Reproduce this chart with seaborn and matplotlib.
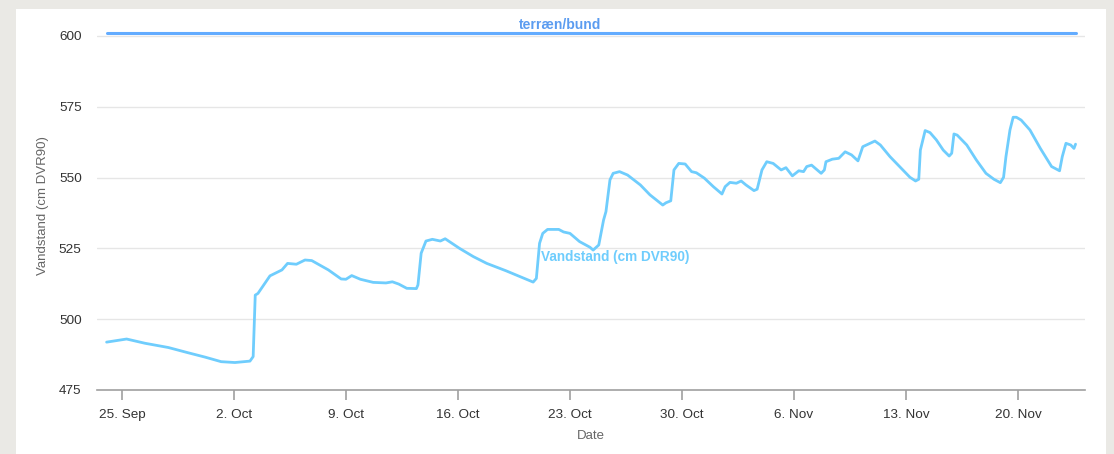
import numpy as np
import pandas as pd
import seaborn as sns
import matplotlib.pyplot as plt
import matplotlib.dates as mdates
from matplotlib.patches import Rectangle

# days after 25 Sep 2023 and water level (cm DVR90)
start_date = "2023-09-25"
day_offset = [
    -0.96, 0.29, 1.44, 2.9, 4.1, 5.2, 6.2, 7.06, 8.0, 8.2, 8.33, 8.5, 9.25, 10.0,
    10.35, 10.9, 11.44, 11.86, 12.9, 13.7, 14.0, 14.36, 14.9, 15.7, 16.5, 16.9,
    17.3, 17.8, 18.4, 18.5, 18.7, 19.0, 19.4, 19.9, 20.2, 21.1, 21.96, 22.8, 24.0,
    24.9, 25.7, 25.9, 26.1, 26.3, 26.6, 27.3, 27.6, 28.0, 28.6, 29.25, 29.45,
    29.8, 30.1, 30.25, 30.5, 30.7, 31.1, 31.6, 32.4, 33.0, 33.8, 34.0, 34.3,
    34.5, 34.8, 35.2, 35.6, 35.9, 36.4, 36.96, 37.5, 37.7, 38.0, 38.4, 38.7,
    39.0, 39.5, 39.7, 40.0, 40.3, 40.7, 41.2, 41.5, 41.9, 42.3, 42.6, 42.8,
    43.1, 43.7, 43.9, 44.0, 44.4, 44.8, 45.2, 45.6, 46.0, 46.3, 46.75, 47.06,
    47.4, 48.0, 48.6, 49.25, 49.6, 49.8, 49.9, 50.2, 50.5, 50.9, 51.33, 51.7,
    51.86, 52.0, 52.2, 52.8, 53.4, 54.0, 54.5, 54.9, 55.1, 55.25, 55.5, 55.7,
    55.9, 56.2, 56.75, 57.4, 58.1, 58.6, 58.77, 59.0, 59.3, 59.5, 59.6,
]
level = [
    491.9, 493.0, 491.5, 490.0, 488.2, 486.6, 485.0, 484.7, 485.2, 486.8, 508.5,
    509.1, 515.3, 517.4, 519.7, 519.4, 520.9, 520.7, 517.4, 514.2, 514.1, 515.4,
    514.1, 513.0, 512.8, 513.2, 512.4, 510.9, 510.8, 512.1, 523.3, 527.6, 528.2,
    527.6, 528.4, 525.0, 522.1, 519.7, 517.1, 515.0, 513.1, 514.4, 526.8, 530.3,
    531.7, 531.7, 530.8, 530.3, 527.4, 525.4, 524.4, 526.2, 535.0, 538.0, 549.2,
    551.5, 552.1, 550.9, 547.4, 543.9, 540.3, 541.1, 541.8, 552.7, 555.0, 554.8,
    552.1, 551.7, 549.8, 546.8, 544.2, 546.8, 548.3, 548.0, 548.8, 547.4, 545.4,
    545.9, 552.7, 555.6, 555.0, 552.7, 553.5, 550.6, 552.4, 552.1, 553.9, 554.4,
    551.5, 552.7, 555.6, 556.5, 556.8, 559.1, 558.0, 555.9, 560.9, 562.1, 562.9,
    561.5, 557.4, 553.9, 550.1, 548.8, 549.4, 559.7, 566.6, 565.9, 563.3, 559.7,
    557.6, 558.6, 565.4, 565.0, 561.5, 556.2, 551.5, 549.4, 548.2, 550.1, 557.4,
    566.8, 571.3, 571.3, 570.3, 566.8, 560.3, 553.9, 552.4, 557.4, 562.1, 561.5,
    560.3, 561.8,
]
terrain_level = 601
yticks = [475, 500, 525, 550, 575, 600]

base = pd.Timestamp(start_date)
df = pd.DataFrame({
    "Date": base + pd.to_timedelta(day_offset, unit="D"),
    "Vandstand": level,
})
terrain = pd.DataFrame({
    "Date": [df["Date"].iloc[0], df["Date"].iloc[-1]],
    "Vandstand": [terrain_level, terrain_level],
})

sns.set_theme(style="white")
plt.rcParams["font.family"] = ["Liberation Sans", "DejaVu Sans"]

water_col = "#6fcdfd"
terrain_col = "#63acff"
label_col = "#5b9cf0"

fig = plt.figure(figsize=(11.14, 4.54), dpi=100)
fig.patch.set_facecolor("#eae9e5")
fig.patches.append(Rectangle((16 / 1114, 0), 1090 / 1114, 445 / 454,
                             transform=fig.transFigure, facecolor="white",
                             edgecolor="none", zorder=-10))

ax = fig.add_axes([97 / 1114, 1 - 390 / 454, 988 / 1114, 0.811])
ax.set_facecolor("none")

sns.lineplot(data=terrain, x="Date", y="Vandstand", ax=ax, color=terrain_col,
             linewidth=2.2, zorder=3)
sns.lineplot(data=df, x="Date", y="Vandstand", ax=ax, color=water_col,
             linewidth=2.0, zorder=3)

ax.set_ylim(475, 605)
ax.set_yticks(yticks)
ax.set_xlim(base + pd.Timedelta(days=-1.56), base + pd.Timedelta(days=60.19))
ax.xaxis.set_major_locator(mdates.WeekdayLocator(byweekday=mdates.MO))
ax.xaxis.set_major_formatter(mdates.DateFormatter("%-d. %b"))

ax.grid(axis="y", color="#e6e6e6", linewidth=1)
ax.set_axisbelow(True)
for side in ["top", "right", "left"]:
    ax.spines[side].set_visible(False)
ax.spines["bottom"].set_color("#a0a0a0")
ax.spines["bottom"].set_linewidth(1.2)

ax.tick_params(axis="x", bottom=True, length=7.5, width=1.2, color="#a0a0a0",
               labelsize=9.7, labelcolor="#333333", pad=6)
ax.tick_params(axis="y", left=False, length=0, labelsize=9.7,
               labelcolor="#333333", pad=11)

ax.set_xlabel("Date", fontsize=9.5, color="#666666", labelpad=7)
ax.set_ylabel("Vandstand (cm DVR90)", fontsize=9.5, color="#666666",
              labelpad=7)

ax.text(base + pd.Timedelta(days=26.2), 522.0, "Vandstand (cm DVR90)",
        color=water_col, fontsize=9.8, fontweight="bold", va="center", ha="left")
ax.text(base + pd.Timedelta(days=27.4), 604.0, "terræn/bund",
        color=label_col, fontsize=10, fontweight="bold", va="center",
        ha="center", clip_on=False)

fig.savefig("out.png", dpi=100, facecolor=fig.get_facecolor())
